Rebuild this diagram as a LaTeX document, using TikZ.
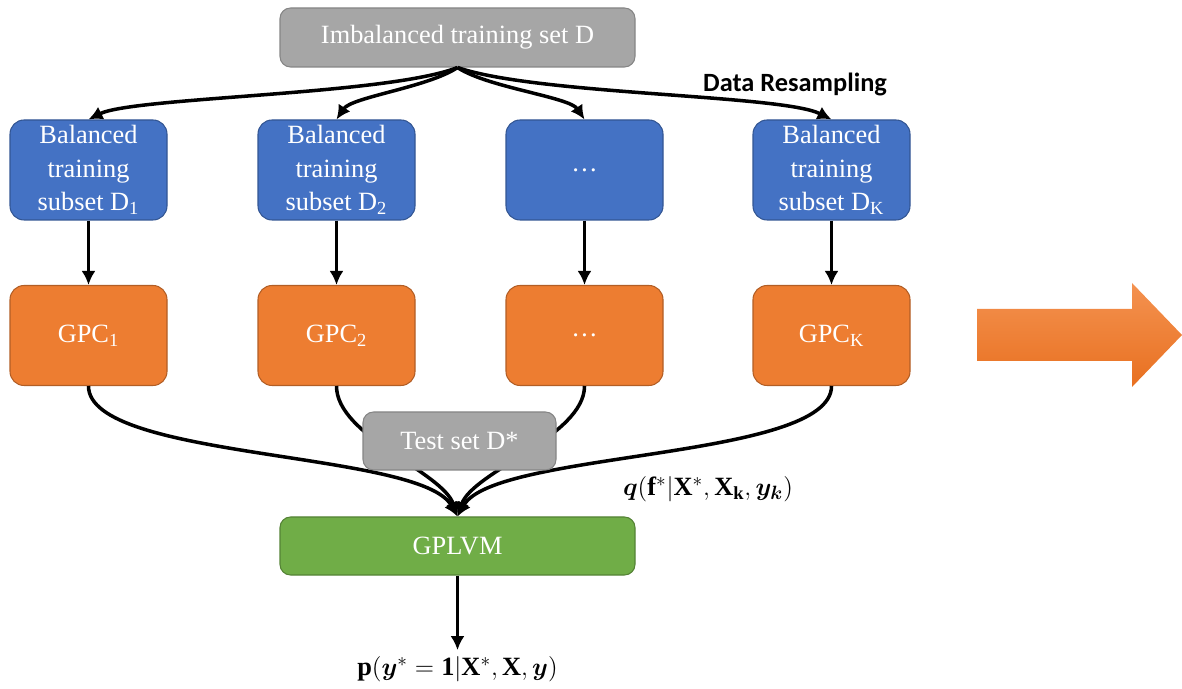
\documentclass[tikz,border=0pt]{standalone}
\usepackage{amsmath,bm}
\usepackage{fontspec}
\setmainfont{Liberation Serif}
\newfontfamily\headfont{Carlito}
\usetikzlibrary{arrows.meta}

\definecolor{boxgray}{RGB}{166,166,166}
\definecolor{boxblue}{RGB}{68,114,196}
\definecolor{boxorange}{RGB}{237,125,49}
\definecolor{boxgreen}{RGB}{112,173,71}

\tikzset{
  block/.style={text=white, align=center, line width=0.6pt, inner sep=0pt,
    font=\fontsize{15}{19}\selectfont},
  setbox/.style={block, rounded corners=6pt, fill=boxgray, draw=boxgray!80!black},
  subsetbox/.style={block, rounded corners=8pt, fill=boxblue, draw=boxblue!75!black,
    minimum width=3.14cm, minimum height=2cm},
  gpcbox/.style={block, rounded corners=8pt, fill=boxorange, draw=boxorange!75!black,
    minimum width=3.14cm, minimum height=2cm},
  lvmbox/.style={block, rounded corners=6pt, fill=boxgreen, draw=boxgreen!75!black,
    minimum width=7.1cm, minimum height=1.16cm},
  formula/.style={font=\fontsize{15}{18}\selectfont},
  link/.style={line width=2pt, -{Latex[length=8pt,width=8pt]}},
}

\begin{document}
\begin{tikzpicture}
\useasboundingbox (0,0) rectangle (23.64,-13.78);

\node[setbox, minimum width=7.1cm, minimum height=1.18cm] (imb) at (9.15,-0.75) {Imbalanced training set D};
\node[font=\headfont\bfseries\fontsize{15}{18}\selectfont] (resamp) at (15.9,-1.68) {Data Resampling};

% balanced subsets
\node[subsetbox] (bal1) at (1.77,-3.4) {Balanced\\training\\subset D\textsubscript{1}};
\node[subsetbox] (bal2) at (6.73,-3.4) {Balanced\\training\\subset D\textsubscript{2}};
\node[subsetbox] (bal3) at (11.69,-3.4) {\dots};
\node[subsetbox] (bal4) at (16.63,-3.4) {Balanced\\training\\subset D\textsubscript{K}};

% one classifier per subset
\node[gpcbox] (gpc1) at (1.77,-6.71) {GPC\textsubscript{1}};
\node[gpcbox] (gpc2) at (6.73,-6.71) {GPC\textsubscript{2}};
\node[gpcbox] (gpc3) at (11.69,-6.71) {\dots};
\node[gpcbox] (gpc4) at (16.63,-6.71) {GPC\textsubscript{K}};

\node[lvmbox] (gplvm) at (9.15,-10.92) {GPLVM};

\draw[link] (imb.south) .. controls +(-1.4,-0.55) and +(0.9,0.45) .. (bal1.north);
\draw[link] (imb.south) .. controls +(-0.6,-0.4) and +(0.3,0.45) .. (bal2.north);
\draw[link] (imb.south) .. controls +(0.6,-0.4) and +(-0.3,0.45) .. (bal3.north);
\draw[link] (imb.south) .. controls +(1.6,-0.55) and +(-1.0,0.5) .. (bal4.north);

\foreach \i in {1,...,4}
  \draw[link] (bal\i.south) -- (gpc\i.north);

% posteriors merged in the GPLVM
\draw[link] (gpc1.south) .. controls +(0,-1.48) and +(-0.74,1.32) .. (gplvm.north);
\draw[link] (gpc2.south) .. controls +(0,-1.0) and +(-0.3,0.9) .. (gplvm.north);
\draw[link] (gpc3.south) .. controls +(0,-1.0) and +(0.3,0.9) .. (gplvm.north);
\draw[link] (gpc4.south) .. controls +(0,-1.48) and +(0.74,1.32) .. (gplvm.north);

\node[setbox, minimum width=3.86cm, minimum height=1.16cm] (test) at (9.19,-8.82) {Test set D*};

\node[formula] (post) at (14.16,-9.78)
  {$\bm{q}(\mathbf{f}^*|\mathbf{X}^*,\mathbf{X}_{\mathbf{k}},\bm{y}_{\bm{k}})$};
\node[formula] (pred) at (9.15,-13.38)
  {$\mathbf{p}(\bm{y}^*=\mathbf{1}|\mathbf{X}^*,\mathbf{X},\bm{y})$};
\draw[link] (gplvm.south) -- (pred.north);

% block arrow on the right
\shade[top color={rgb,255:red,244;green,146;blue,80}, bottom color={rgb,255:red,232;green,112;blue,32}]
  (19.54,-6.18) -- (22.64,-6.18) -- (22.64,-5.66) -- (23.64,-6.7)
  -- (22.64,-7.74) -- (22.64,-7.22) -- (19.54,-7.22) -- cycle;
\end{tikzpicture}
\end{document}
